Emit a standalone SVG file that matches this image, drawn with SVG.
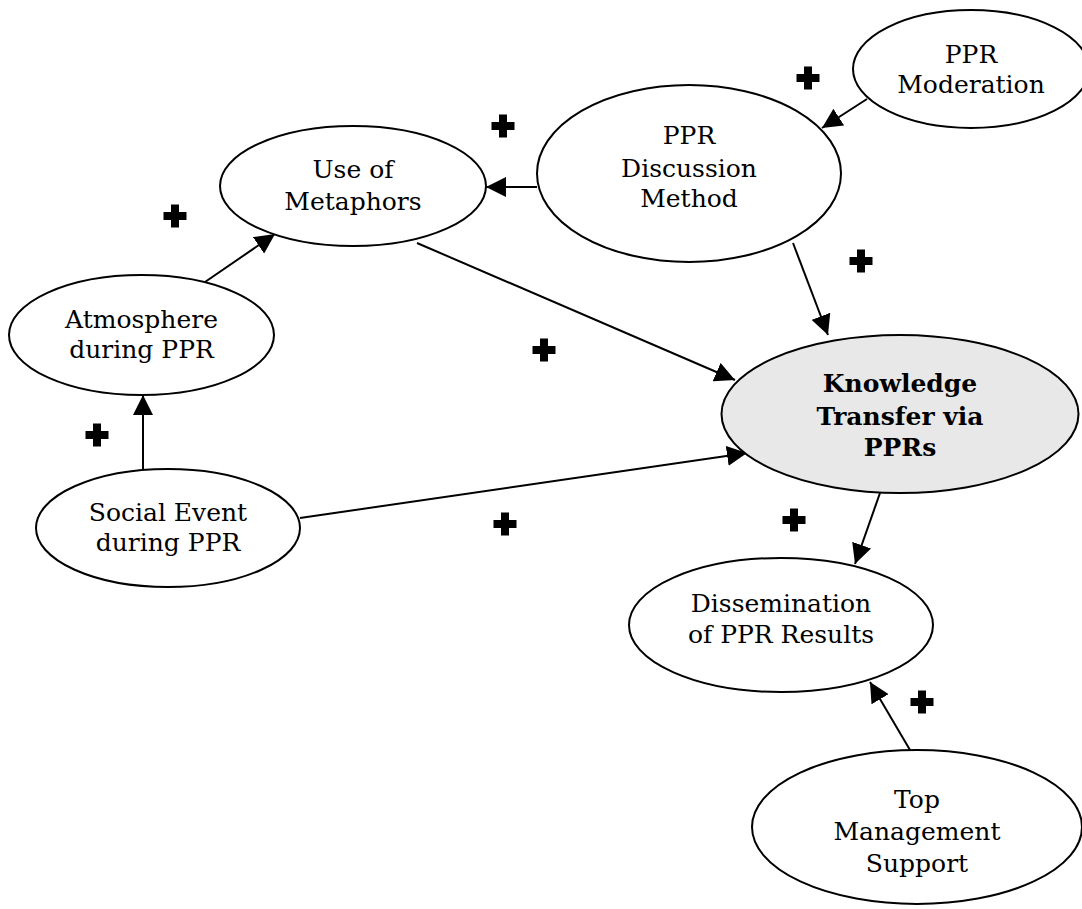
<svg xmlns="http://www.w3.org/2000/svg" xmlns:xlink="http://www.w3.org/1999/xlink" width="1082" height="909" viewBox="0 0 1082 909">
  <style>
    .node { fill: #ffffff; stroke: #000000; stroke-width: 2; }
    .focus { fill: #e8e8e8; stroke: #000000; stroke-width: 2; }
    .label { font-family: "DejaVu Serif", "Liberation Serif", serif; font-size: 25px; fill: #000000; text-anchor: middle; }
    .bold { font-weight: bold; }
    .edge { stroke: #000000; stroke-width: 2; fill: none; marker-end: url(#arrow); }
  </style>
  <defs>
    <marker id="arrow" viewBox="0 0 20 20" refX="20" refY="10" markerWidth="20" markerHeight="20" markerUnits="userSpaceOnUse" orient="auto">
      <path d="M0,0 L20,10 L0,20 z" fill="#000000"/>
    </marker>
    <!-- positive-influence sign -->
    <path id="plus" d="M-4,-11.5 H4 V-4 H11.5 V4 H4 V11.5 H-4 V4 H-11.5 V-4 H-4 Z" fill="#000000"/>
  </defs>

  <rect width="1082" height="909" fill="#ffffff"/>

  <g id="connectors">
    <line class="edge" x1="867" y1="99" x2="822" y2="128"/>
    <line class="edge" x1="537" y1="187" x2="486" y2="187"/>
    <line class="edge" x1="417" y1="243" x2="735" y2="380"/>
    <line class="edge" x1="793" y1="243" x2="828" y2="335"/>
    <line class="edge" x1="205" y1="282" x2="275" y2="234"/>
    <line class="edge" x1="143" y1="469" x2="143" y2="395"/>
    <line class="edge" x1="300" y1="518" x2="747" y2="453"/>
    <line class="edge" x1="880" y1="493" x2="855" y2="564"/>
    <line class="edge" x1="910" y1="750" x2="870" y2="682"/>
  </g>

  <g id="signs">
    <use xlink:href="#plus" x="808" y="78"/>
    <use xlink:href="#plus" x="503" y="126"/>
    <use xlink:href="#plus" x="175" y="216"/>
    <use xlink:href="#plus" x="861" y="261"/>
    <use xlink:href="#plus" x="544" y="350"/>
    <use xlink:href="#plus" x="97" y="435"/>
    <use xlink:href="#plus" x="505" y="524"/>
    <use xlink:href="#plus" x="794" y="520"/>
    <use xlink:href="#plus" x="922" y="702"/>
  </g>

  <g id="ppr-moderation">
    <ellipse class="node" cx="971" cy="69" rx="118" ry="59"/>
    <text class="label" x="971" y="63">PPR</text>
    <text class="label" x="971" y="93">Moderation</text>
  </g>

  <g id="ppr-discussion-method">
    <ellipse class="node" cx="689" cy="173.5" rx="152" ry="88.5"/>
    <text class="label" x="689" y="144">PPR</text>
    <text class="label" x="689" y="177">Discussion</text>
    <text class="label" x="689" y="207">Method</text>
  </g>

  <g id="use-of-metaphors">
    <ellipse class="node" cx="353" cy="186" rx="133" ry="60"/>
    <text class="label" x="353" y="178">Use of</text>
    <text class="label" x="353" y="210">Metaphors</text>
  </g>

  <g id="atmosphere">
    <ellipse class="node" cx="141.5" cy="335" rx="132.5" ry="60"/>
    <text class="label" x="141.5" y="328">Atmosphere</text>
    <text class="label" x="141.5" y="358">during PPR</text>
  </g>

  <g id="social-event">
    <ellipse class="node" cx="168" cy="528" rx="132" ry="59"/>
    <text class="label" x="168" y="521">Social Event</text>
    <text class="label" x="168" y="551">during PPR</text>
  </g>

  <g id="knowledge-transfer">
    <ellipse class="focus" cx="900" cy="414" rx="178.5" ry="79"/>
    <text class="label bold" x="900" y="392">Knowledge</text>
    <text class="label bold" x="900" y="425">Transfer via</text>
    <text class="label bold" x="900" y="456">PPRs</text>
  </g>

  <g id="dissemination">
    <ellipse class="node" cx="781" cy="625" rx="152" ry="67"/>
    <text class="label" x="781" y="612">Dissemination</text>
    <text class="label" x="781" y="643">of PPR Results</text>
  </g>

  <g id="top-management-support">
    <ellipse class="node" cx="917" cy="827" rx="165" ry="77"/>
    <text class="label" x="917" y="808">Top</text>
    <text class="label" x="917" y="840">Management</text>
    <text class="label" x="917" y="872">Support</text>
  </g>
</svg>
